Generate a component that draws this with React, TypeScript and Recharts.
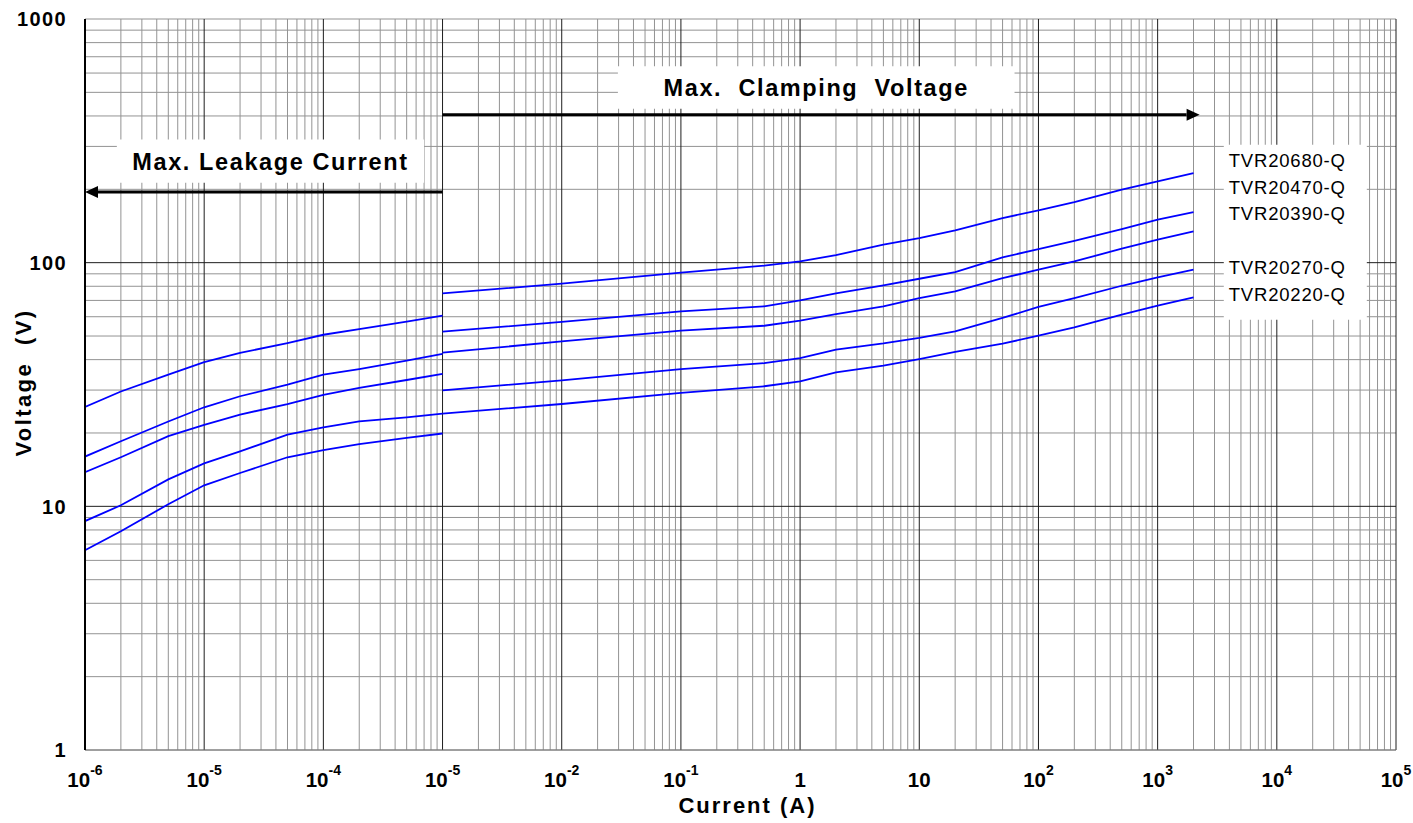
import React from 'react'
import {
  LineChart,
  Line,
  XAxis,
  YAxis,
  CartesianGrid,
  ReferenceArea,
  ReferenceLine,
  ReferenceDot,
} from 'recharts'

// current steps (A) for the two regions of the V-I curve
const leakCurrent = [1e-6, 2e-6, 5e-6, 1e-5, 2e-5, 5e-5, 1e-4, 2e-4, 5e-4, 1e-3]
const clampCurrent = [1e-3, 1e-2, 1e-1, 0.5, 1, 2, 5, 10, 20, 50, 100, 200, 500, 1000, 2000]

const models = ['TVR20680-Q', 'TVR20470-Q', 'TVR20390-Q', 'TVR20270-Q', 'TVR20220-Q']

// max. leakage current region, voltage (V)
const leak680 = [25.6, 29.6, 34.7, 39.1, 42.6, 46.8, 50.6, 53.4, 57.3, 60.6]
const leak470 = [16.0, 18.5, 22.3, 25.5, 28.3, 31.6, 34.7, 36.6, 39.6, 42.2]
const leak390 = [13.8, 15.9, 19.4, 21.6, 23.8, 26.3, 28.7, 30.6, 33.0, 35.0]
const leak270 = [8.7, 10.1, 12.9, 15.0, 16.8, 19.7, 21.1, 22.3, 23.2, 24.0]
const leak220 = [6.6, 7.9, 10.2, 12.2, 13.7, 15.9, 17.0, 18.0, 19.1, 19.9]

// max. clamping voltage region, voltage (V)
const clamp680 = [74.8, 82.0, 91.0, 97.2, 101.2, 107.5, 118.5, 126.2, 135.7, 152.4, 163.9, 177.3, 199.3, 215.6, 233.2]
const clamp470 = [52.1, 57.1, 63.1, 66.2, 70.0, 74.8, 80.7, 85.9, 91.5, 105.1, 113.7, 123.0, 137.4, 150.1, 161.3]
const clamp390 = [42.7, 47.5, 52.6, 55.1, 57.8, 61.5, 66.2, 71.6, 76.3, 86.4, 93.6, 101.2, 114.1, 124.3, 134.4]
const clamp270 = [29.9, 32.9, 36.6, 38.7, 40.6, 44.0, 46.6, 49.1, 52.2, 59.3, 65.8, 71.6, 80.4, 87.0, 93.6]
const clamp220 = [24.0, 26.3, 29.2, 31.1, 32.6, 35.5, 37.8, 40.2, 43.0, 46.5, 50.2, 54.3, 61.2, 66.6, 72.0]

// axis ticks
const xDecades = [1e-6, 1e-5, 1e-4, 1e-3, 1e-2, 1e-1, 1, 10, 1e2, 1e3, 1e4, 1e5]
const xTickBase = ['10', '10', '10', '10', '10', '10', '1', '10', '10', '10', '10', '10']
const xTickExp = ['-6', '-5', '-4', '-5', '-2', '-1', '', '', '2', '3', '4', '5']
const yDecades = [1, 10, 100, 1000]
const yTickLabels = ['1', '10', '100', '1000']

const FONT = '"Liberation Sans", Arial, sans-serif'
const BLUE = '#0000ff'

const toPoints = (xs: number[], ys: number[]) =>
  xs.map((c, i) => ({ current: c, voltage: ys[i] }))

const leakSeries = [leak680, leak470, leak390, leak270, leak220]
const clampSeries = [clamp680, clamp470, clamp390, clamp270, clamp220]

// log grid: 2..9 inside every decade
const minorX: number[] = []
for (let d = 0; d < xDecades.length - 1; d++) {
  for (let k = 2; k <= 9; k++) minorX.push(xDecades[d] * k)
}
const minorY: number[] = [1, 1000]
for (let d = 0; d < yDecades.length - 1; d++) {
  for (let k = 2; k <= 9; k++) minorY.push(yDecades[d] * k)
}

const XTick = (props: any) => {
  const { x, y, index } = props
  return (
    <text
      x={x}
      y={y + 29}
      textAnchor="middle"
      fontFamily={FONT}
      fontWeight="bold"
      fontSize={20.5}
      fill="#000"
    >
      <tspan>{xTickBase[index]}</tspan>
      {xTickExp[index] && (
        <tspan dy={-12} fontSize={14}>
          {xTickExp[index]}
        </tspan>
      )}
    </text>
  )
}

const YTick = (props: any) => {
  const { x, y, index } = props
  return (
    <text
      x={x - 10}
      y={y}
      dy="0.36em"
      textAnchor="end"
      fontFamily={FONT}
      fontWeight="bold"
      fontSize={20}
      letterSpacing={1.4}
      fill="#000"
    >
      {yTickLabels[index]}
    </text>
  )
}

// thick annotation arrow, head at the second segment point
const Arrow = (props: any) => {
  const { x1, y1, x2, y2 } = props
  const dir = Math.sign(x2 - x1)
  const len = 13
  const half = 6
  return (
    <g>
      <line x1={x1} y1={y1} x2={x2 - dir * len} y2={y2} stroke="#000" strokeWidth={3} />
      <polygon
        points={`${x2},${y2} ${x2 - dir * len},${y2 - half} ${x2 - dir * len},${y2 + half}`}
        fill="#000"
      />
    </g>
  )
}

const boxTitle = (text: string) => (props: any) => {
  const { x, y, width, height } = props.viewBox
  return (
    <text
      x={x + width / 2}
      y={y + height / 2}
      dy="0.36em"
      textAnchor="middle"
      fontFamily={FONT}
      fontWeight="bold"
      fontSize={23.5}
      letterSpacing={1.6}
      fill="#000"
    >
      {text}
    </text>
  )
}

const modelLabel = (text: string) => (props: any) => {
  const { x, y } = props.viewBox
  return (
    <text x={x} y={y} dy="0.36em" fontFamily={FONT} fontSize={18.5} letterSpacing={0.8} fill="#000">
      {text}
    </text>
  )
}

// where the model names sit next to the line ends
const labelCurrent = 3950
const labelVoltage = [262, 203, 159, 95.4, 74]

export default function App() {
  return (
    <div style={{ position: 'absolute', left: 0, top: 0, width: 1413, height: 823, background: '#fff' }}>
      <LineChart width={1413} height={823} margin={{ top: 19, right: 17, left: 10, bottom: 33 }}>
        <CartesianGrid
          stroke="#939393"
          strokeWidth={1}
          verticalValues={minorX}
          horizontalValues={minorY}
        />
        <CartesianGrid
          stroke="#1e1e1e"
          strokeWidth={1}
          verticalValues={xDecades}
          horizontalValues={[10, 100]}
        />
        <XAxis
          dataKey="current"
          type="number"
          scale="log"
          domain={[1e-6, 1e5]}
          allowDataOverflow
          ticks={xDecades}
          interval={0}
          tickLine={false}
          axisLine={{ stroke: '#777' }}
          height={40}
          tick={<XTick />}
          label={(p: any) => {
            const vb = p.viewBox
            return (
              <text
                x={vb.x + vb.width / 2 + 7}
                y={vb.y + vb.height + 15}
                dy="0.36em"
                textAnchor="middle"
                fontFamily={FONT}
                fontWeight="bold"
                fontSize={22}
                letterSpacing={2}
                fill="#000"
              >
                Current (A)
              </text>
            )
          }}
        />
        <YAxis
          dataKey="voltage"
          type="number"
          scale="log"
          domain={[1, 1000]}
          allowDataOverflow
          ticks={yDecades}
          interval={0}
          tickLine={false}
          axisLine={{ stroke: '#000', strokeWidth: 2 }}
          width={75}
          tick={<YTick />}
          label={(p: any) => {
            const vb = p.viewBox
            const cx = 23
            const cy = vb.y + vb.height / 2 - 2
            return (
              <text
                x={cx}
                y={cy}
                dy="0.36em"
                textAnchor="middle"
                transform={`rotate(-90 ${cx} ${cy})`}
                fontFamily={FONT}
                fontWeight="bold"
                fontSize={22}
                letterSpacing={2.4}
                fill="#000"
              >
                {'Voltage\u00a0 (V)'}
              </text>
            )
          }}
        />

        <ReferenceArea
          x1={1.85e-6}
          x2={7e-4}
          y1={213}
          y2={320}
          fill="#fff"
          fillOpacity={1}
          stroke="none"
          label={boxTitle('Max. Leakage Current')}
        />
        <ReferenceArea
          x1={0.0296}
          x2={63}
          y1={428}
          y2={640}
          fill="#fff"
          fillOpacity={1}
          stroke="none"
          label={boxTitle('Max.\u00a0 Clamping\u00a0 Voltage')}
        />
        <ReferenceArea x1={3590} x2={56900} y1={58.3} y2={305} fill="#fff" fillOpacity={1} stroke="none" />

        <ReferenceLine
          segment={[
            { x: 1e-3, y: 195 },
            { x: 1e-6, y: 195 },
          ]}
          shape={Arrow}
        />
        <ReferenceLine
          segment={[
            { x: 1e-3, y: 405 },
            { x: 2250, y: 405 },
          ]}
          shape={Arrow}
        />

        {models.map((m, i) => (
          <ReferenceDot
            key={m}
            x={labelCurrent}
            y={labelVoltage[i]}
            r={0}
            fill="none"
            stroke="none"
            label={modelLabel(m)}
          />
        ))}

        {leakSeries.map((ys, i) => (
          <Line
            key={'leak' + i}
            data={toPoints(leakCurrent, ys)}
            dataKey="voltage"
            type="linear"
            stroke={BLUE}
            strokeWidth={1.8}
            dot={false}
            isAnimationActive={false}
          />
        ))}
        {clampSeries.map((ys, i) => (
          <Line
            key={'clamp' + i}
            data={toPoints(clampCurrent, ys)}
            dataKey="voltage"
            type="linear"
            stroke={BLUE}
            strokeWidth={1.8}
            dot={false}
            isAnimationActive={false}
          />
        ))}
      </LineChart>
    </div>
  )
}
